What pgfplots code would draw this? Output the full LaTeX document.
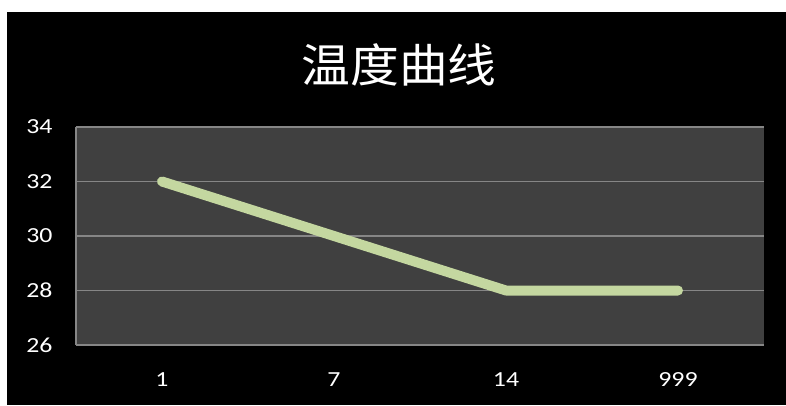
\documentclass[border=0pt]{standalone}
\usepackage{fontspec}
\setmainfont{Carlito}
\newfontfamily\tickfont[FakeStretch=1.2]{Carlito}
\newfontfamily\cjk[FakeStretch=1.06]{Noto Sans CJK SC}
\usepackage{pgfplots}
\pgfplotsset{compat=1.18}
\definecolor{plotbg}{HTML}{404040}
\definecolor{gridc}{HTML}{868686}
\definecolor{linec}{HTML}{C4D7A0}
\begin{document}
\begin{tikzpicture}[x=1pt,y=1pt]
\useasboundingbox (0,0) rectangle (786,405);
\fill[white] (0,0) rectangle (786,405);
\fill[black] (7,0) rectangle (786,393);
\node[text=white,font=\cjk\fontsize{46}{52}\selectfont] at (399,340) {温度曲线};
\begin{axis}[
  at={(76pt,60pt)}, anchor=south west,
  scale only axis, width=688pt, height=218pt,
  xmin=-0.5, xmax=3.5, ymin=26, ymax=34,
  xtick={0,1,2,3}, xticklabels={1,7,14,999},
  ytick={26,28,30,32,34},
  axis background/.style={fill=plotbg},
  ymajorgrids, grid style={color=gridc, line width=1.5pt},
  axis x line*=bottom, axis y line*=left,
  axis line style={color=gridc, line width=1.5pt, -},
  major tick length=0pt,
  tick label style={text=white, font=\tickfont\fontsize{21.5}{25}\selectfont},
  /pgf/number format/assume math mode=true,
  xticklabel style={yshift=-24pt},
  yticklabel style={xshift=-20pt},
]
\addplot[color=linec, line width=10pt, line cap=round, line join=round] coordinates {(0,32) (1,30) (2,28) (3,28)};
\end{axis}
\end{tikzpicture}
\end{document}
